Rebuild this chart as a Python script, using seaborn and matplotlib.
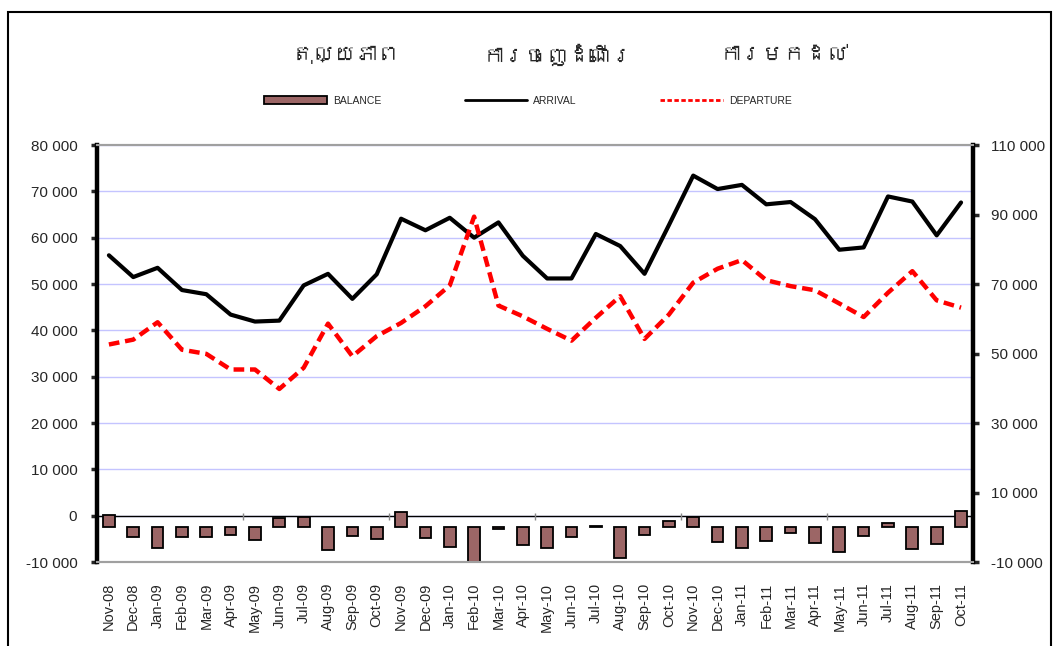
import matplotlib
matplotlib.use('Agg')
import matplotlib.pyplot as plt
from matplotlib import font_manager, ft2font
from matplotlib.patches import Patch, Rectangle
from matplotlib.lines import Line2D
from matplotlib.ticker import FuncFormatter
import seaborn as sns
import pandas as pd
import numpy as np

# Data (Nov-08 to Oct-11)
months = ['Nov-08', 'Dec-08', 'Jan-09', 'Feb-09', 'Mar-09', 'Apr-09', 'May-09', 'Jun-09',
          'Jul-09', 'Aug-09', 'Sep-09', 'Oct-09', 'Nov-09', 'Dec-09', 'Jan-10', 'Feb-10',
          'Mar-10', 'Apr-10', 'May-10', 'Jun-10', 'Jul-10', 'Aug-10', 'Sep-10', 'Oct-10',
          'Nov-10', 'Dec-10', 'Jan-11', 'Feb-11', 'Mar-11', 'Apr-11', 'May-11', 'Jun-11',
          'Jul-11', 'Aug-11', 'Sep-11', 'Oct-11']

arrival = [56200, 51500, 53500, 48700, 47800, 43400, 41900, 42100, 49700, 52200, 46800, 52100,
           64100, 61600, 64300, 60000, 63300, 56100, 51200, 51200, 60800, 58200, 52200, 62700,
           73400, 70500, 71400, 67200, 67700, 64000, 57400, 57900, 68900, 67800, 60500, 67600]

departure = [52600, 54000, 59000, 51100, 49900, 45400, 45400, 39800, 45900, 58600, 49200, 55000,
             58800, 63600, 69600, 89400, 63800, 60700, 57100, 53700, 60300, 66500, 54200, 61200,
             70400, 74400, 76900, 71100, 69400, 68200, 64400, 60500, 67500, 73700, 65300, 63200]

balance = [3600, -2900, -6000, -2700, -2800, -2100, -3700, 2700, 3000, -6500, -2500, -3400,
           4500, -3200, -5600, -29400, -600, -5100, -6000, -2700, 500, -8900, -2100, 1700,
           3000, -4300, -6000, -4000, -1700, -4500, -7200, -2600, 1300, -6300, -4800, 4700]

titles = ['តុល្យភាព', 'ការចេញដំណើរ', 'ការមកដល់']
legend_labels = ['BALANCE', 'ARRIVAL', 'DEPARTURE']

left_ticks = list(range(-10000, 80001, 10000))
right_ticks = list(range(-10000, 110001, 20000))

df = pd.DataFrame({'month': months, 'arrival': arrival,
                   'departure': departure, 'balance': balance})


# Look for an installed font that has Khmer glyphs
def find_font(ch):
    for f in font_manager.fontManager.ttflist:
        try:
            if ord(ch) in ft2font.FT2Font(f.fname).get_charmap():
                return f.name
        except Exception:
            pass
    return None


khmer_font = find_font('ក')

sns.set_style('white')
plt.rcParams['font.family'] = ['Liberation Sans', 'DejaVu Sans']

bar_color = '#9c6666'
grid_color = '#c4c4ff'

fig = plt.figure(figsize=(10.56, 6.46), dpi=100)
ax = fig.add_axes([0.0916, 0.130, 0.830, 0.6455])
ax2 = ax.twinx()

# arrival on the left axis
sns.lineplot(data=df, x='month', y='arrival', ax=ax, sort=False,
             color='black', linewidth=3)
ax.axhline(0, color='black', linewidth=1, zorder=1)
ax.vlines(np.arange(5.5, len(months) - 1, 6), -900, 600, color='#888888', linewidth=1)

# balance bars and departure on the right axis
sns.barplot(data=df, x='month', y='balance', ax=ax2, color=bar_color,
            edgecolor='black', linewidth=1.3, width=0.48, saturation=1)
sns.lineplot(data=df, x='month', y='departure', ax=ax2, sort=False,
             color='#ff0000', linewidth=3.2, dashes=False)
ax2.lines[-1].set_dashes((2.4, 1.3))

ax.set_xlim(-0.5, len(months) - 0.5)
ax.set_ylim(-10000, 80000)
ax2.set_ylim(-10000, 110000)
ax.set_yticks(left_ticks)
ax2.set_yticks(right_ticks)

fmt = FuncFormatter(lambda v, p: f'{int(v):,}'.replace(',', ' '))
ax.yaxis.set_major_formatter(fmt)
ax2.yaxis.set_major_formatter(fmt)

ax.grid(axis='y', color=grid_color, linewidth=1)
ax.set_axisbelow(True)

ax.set_xticks(range(len(months)))
ax.set_xticklabels(months, rotation=90, fontsize=10.5)
ax.tick_params(axis='x', length=0, pad=15)
ax.tick_params(axis='y', labelsize=11, length=4, width=2.5, direction='out', pad=10)
ax2.tick_params(axis='y', labelsize=11, length=4, width=2.5, direction='out', pad=9)
ax2.tick_params(axis='x', length=0)

for a in (ax, ax2):
    a.set_xlabel('')
    a.set_ylabel('')
    a.spines['top'].set_color('#a0a0a0')
    a.spines['bottom'].set_color('#a0a0a0')
    a.spines['top'].set_linewidth(1.5)
    a.spines['bottom'].set_linewidth(1.5)
ax.spines['left'].set_linewidth(3.2)
ax.spines['left'].set_color('black')
ax.spines['right'].set_visible(False)
ax2.spines['left'].set_visible(False)
ax2.spines['right'].set_linewidth(3.2)
ax2.spines['right'].set_color('black')

# Khmer titles above the legend
kfam = [khmer_font, 'DejaVu Sans'] if khmer_font else ['DejaVu Sans']
for x, t in zip([0.327, 0.528, 0.743], titles):
    fig.text(x, 0.915, t, ha='center', va='center', fontsize=15.5,
             fontweight='bold', family=kfam)

handles = [Patch(facecolor=bar_color, edgecolor='black', linewidth=1.3),
           Line2D([], [], color='black', linewidth=2),
           Line2D([], [], color='#ff0000', linewidth=2, dashes=(1.6, 0.9))]
fig.legend(handles, legend_labels, loc='center', bbox_to_anchor=(0.50, 0.8437),
           ncol=3, frameon=False, fontsize=7.5, handlelength=6, handleheight=0.8,
           handletextpad=0.6, columnspacing=8)

# outer frame of the chart area
fig.patches.append(Rectangle((8 / 1056, -0.05), 1043 / 1056, 1.05 - 12 / 646,
                             transform=fig.transFigure, fill=False,
                             edgecolor='black', linewidth=1.5))

fig.savefig('out.png', dpi=100)
